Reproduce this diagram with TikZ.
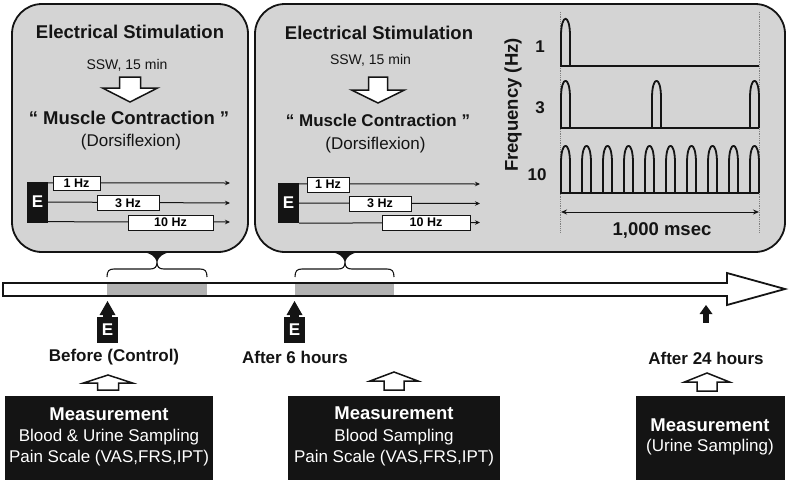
\documentclass[tikz,border=0pt]{standalone}
\usepackage{fontspec}
\setmainfont{Liberation Sans}
\usetikzlibrary{arrows.meta}
\definecolor{boxgray}{RGB}{212,212,212}
\definecolor{bandgray}{RGB}{178,178,178}
\definecolor{ink}{RGB}{20,20,20}
\begin{document}
\begin{tikzpicture}[x=1pt,y=-1pt,
 panel/.style={draw=ink,line width=1.8pt,fill=boxgray,rounded corners=30pt},
 ttl/.style={font=\fontsize{18.5}{22}\selectfont\bfseries,text=ink,inner sep=0pt},
 sub/.style={font=\fontsize{14}{16}\selectfont,text=ink,inner sep=0pt},
 parn/.style={font=\fontsize{17}{20}\selectfont,text=ink,inner sep=0pt},
 hzbox/.style={draw=ink,line width=0.8pt,fill=white,font=\fontsize{12.5}{14}\selectfont\bfseries,inner sep=0pt},
 ebox/.style={fill=ink,text=white,font=\fontsize{17}{20}\selectfont\bfseries,inner sep=0pt},
 lbl/.style={font=\fontsize{17}{20}\selectfont\bfseries,text=ink,inner sep=0pt},
 meas/.style={fill=ink,inner sep=0pt},
 mt/.style={text=white,font=\fontsize{18.5}{22}\selectfont\bfseries,inner sep=0pt},
 mr/.style={text=white,font=\fontsize{17}{20}\selectfont,inner sep=0pt},
 hollow/.style={draw=ink,line width=1.5pt,fill=white,line join=miter},
 sig/.style={line width=1.8pt,draw=ink,line join=round},
 tick/.style={-{Stealth[length=5pt,width=4.5pt]},line width=1pt,draw=ink},
 brc/.style={draw=ink,line width=1.1pt},
 pulse/.pic={\draw[sig] (0,0) -- (0,-30) .. controls (0,-53) and (9,-53) .. (9,-30) -- (9,0);},
]
\useasboundingbox (0,0) rectangle (791,480);

% panels
\draw[panel] (12,4) rectangle (248,252);
\draw[panel] (255,4) rectangle (785,252);

% panel 1 texts
\node[ttl] (t1) at (130,32) {Electrical Stimulation};
\node[sub] (s1) at (127,65) {SSW, 15 min};
\draw[hollow] (119.5,77) -- (140.5,77) -- (140.5,88) -- (157.5,88) -- (130,102) -- (102.5,88) -- (119.5,88) -- cycle;
\node[ttl] (m1) at (129,118) {“ Muscle Contraction ”};
\node[parn] (d1) at (131,142) {(Dorsiflexion)};

% panel 1 stimulation diagram
\node[ebox,minimum width=21pt,minimum height=41pt] (pe1) at (37.5,202) {E};
\coordinate (a11) at (230,183);
\coordinate (a12) at (230,203);
\coordinate (a13) at (230,222);
\draw[tick] (pe1.north east) ++(0,1.5) -- (a11);
\draw[tick] (pe1.east) -- (a12);
\draw[tick] (pe1.south east) ++(0,-1) -- (a13);
\node[hzbox,minimum width=47pt,minimum height=14pt] (h11) at (76.5,183.5) {1 Hz};
\node[hzbox,minimum width=62pt,minimum height=15pt] (h12) at (128,203) {3 Hz};
\node[hzbox,minimum width=85pt,minimum height=15pt] (h13) at (170.5,222.5) {10 Hz};

% panel 2 texts
\node[ttl] (t2) at (379,33) {Electrical Stimulation};
\node[sub] (s2) at (370.5,60) {SSW, 15 min};
\draw[hollow] (368.5,77) -- (387.5,77) -- (387.5,90) -- (404.5,90) -- (378,103) -- (351.5,90) -- (368.5,90) -- cycle;
\node[ttl,font=\fontsize{17}{20}\selectfont\bfseries] (m2) at (378,120) {“ Muscle Contraction ”};
\node[parn] (d2) at (375.5,145) {(Dorsiflexion)};

% panel 2 stimulation diagram
\node[ebox,minimum width=21pt,minimum height=40pt] (pe2) at (288.5,203) {E};
\coordinate (a21) at (480,184);
\coordinate (a22) at (480,203.5);
\coordinate (a23) at (480,222.5);
\draw[tick] (pe2.north east) ++(0,1) -- (a21);
\draw[tick] (pe2.east) -- (a22);
\draw[tick] (pe2.south east) -- (a23);
\node[hzbox,minimum width=42pt,minimum height=15pt] (h21) at (328,184.5) {1 Hz};
\node[hzbox,minimum width=62pt,minimum height=15pt] (h22) at (380,203.5) {3 Hz};
\node[hzbox,minimum width=88pt,minimum height=15pt] (h23) at (426,222.5) {10 Hz};

% waveform panel
\node[lbl,rotate=90,font=\fontsize{18.5}{22}\selectfont\bfseries] (fq) at (513,105) {Frequency (Hz)};
\node[lbl] (r1) at (540,47) {1};
\node[lbl] (r3) at (540,108) {3};
\node[lbl] (r10) at (537,175) {10};
\draw[densely dotted,gray,line width=0.8pt] (560,12) -- (560,232);
\draw[densely dotted,gray,line width=0.8pt] (759,12) -- (759,232);
\draw[sig] (560,66) -- (759,66);
\pic at (561,66) {pulse};
\draw[sig] (560,128) -- (759,128);
\foreach \px in {561,652,750} {\pic at (\px,128) {pulse};}
\draw[sig] (560,193) -- (759,193);
\foreach \k in {0,...,9} {\pic at ({561+21*\k},193) {pulse};}
\coordinate (dl) at (561,212);
\coordinate (dr) at (759,212);
\draw[{Stealth[length=6pt,width=5pt]}-{Stealth[length=6pt,width=5pt]},line width=1pt,draw=ink] (dl) -- (dr);
\node[ttl] (ms) at (662,230) {1,000 msec};

% callout pointers and braces
\fill[ink] (143,252) .. controls (150,253) and (155,256) .. (157,262) .. controls (159,256) and (164,253) .. (171,252) -- cycle;
\draw[brc] (107,277) .. controls (107,271) and (109,269) .. (114,269) -- (150,269) .. controls (155,269) and (157,267) .. (157,262) .. controls (157,267) and (159,269) .. (164,269) -- (200,269) .. controls (205,269) and (207,271) .. (207,277);
\fill[ink] (331,252) .. controls (338,253) and (343,256) .. (345,262) .. controls (347,256) and (352,253) .. (359,252) -- cycle;
\draw[brc] (295,277) .. controls (295,271) and (297,269) .. (302,269) -- (338,269) .. controls (343,269) and (345,267) .. (345,262) .. controls (345,267) and (347,269) .. (352,269) -- (387,269) .. controls (392,269) and (394,271) .. (394,277);

% timeline
\draw[line width=1.8pt,draw=ink,fill=white,line join=miter] (3,283) -- (727,283) -- (727,273) -- (785,289) -- (727,305) -- (727,296) -- (3,296) -- cycle;
\fill[bandgray] (107,284.1) rectangle (207,294.9);
\fill[bandgray] (295,284.1) rectangle (394,294.9);

% E markers
\fill[ink] (107.5,301) -- (115.5,315) -- (99.5,315) -- cycle;
\fill[ink] (103,314) rectangle (112,318);
\node[ebox,minimum width=21pt,minimum height=26pt] (e1) at (107.5,330) {E};
\fill[ink] (294.5,301) -- (302.5,315) -- (286.5,315) -- cycle;
\fill[ink] (290,314) rectangle (299,318);
\node[ebox,minimum width=21pt,minimum height=26pt] (e2) at (294.5,330) {E};
\fill[ink] (706,305) -- (712.5,314) -- (699.5,314) -- cycle;
\fill[ink] (703,313) rectangle (709,323);

% time labels
\node[lbl] (l1) at (114,357) {Before (Control)};
\node[lbl] (l2) at (295,357) {After 6 hours};
\node[lbl] (l3) at (706,358) {After 24 hours};

% hollow up arrows
\draw[hollow] (108,375) -- (132.5,383) -- (118.5,383) -- (118.5,390) -- (97.5,390) -- (97.5,383) -- (83.5,383) -- cycle;
\draw[hollow] (394,372) -- (418,381) -- (404,381) -- (404,390) -- (384,390) -- (384,381) -- (370,381) -- cycle;
\draw[hollow] (707,373) -- (729.5,382) -- (717,382) -- (717,391) -- (697,391) -- (697,382) -- (684.5,382) -- cycle;

% measurement boxes
\node[meas,minimum width=208pt,minimum height=84pt] (b1) at (109,438) {};
\node[meas,minimum width=212pt,minimum height=84pt] (b2) at (394,438) {};
\node[meas,minimum width=149pt,minimum height=84pt] (b3) at (710.5,438) {};
\node[mt] at (109,414) {Measurement};
\node[mr] at (109,437) {Blood \& Urine Sampling};
\node[mr] at (109,458) {Pain Scale (VAS,FRS,IPT)};
\node[mt] at (394,413) {Measurement};
\node[mr] at (394,437) {Blood Sampling};
\node[mr] at (394,458) {Pain Scale (VAS,FRS,IPT)};
\node[mt] at (710,425) {Measurement};
\node[mr] at (710,447) {(Urine Sampling)};
\end{tikzpicture}
\end{document}
